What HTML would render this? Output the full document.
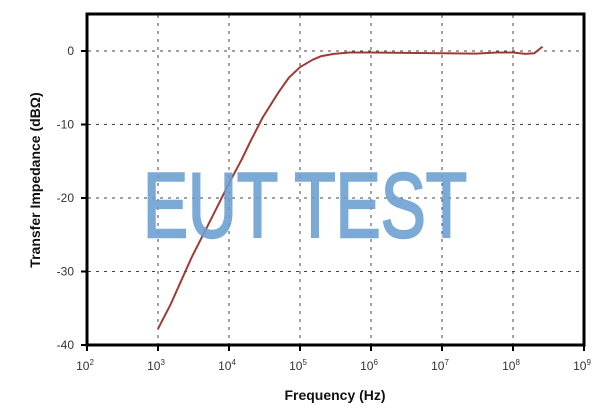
<!DOCTYPE html>
<html><head><meta charset="utf-8"><style>
body{margin:0;background:#fff;width:600px;height:409px;overflow:hidden;font-family:"Liberation Sans",sans-serif}
</style></head><body>
<svg id="chart" width="600" height="409">
<g id="grid"></g>
<g id="axes"></g>
<path id="line" fill="none" stroke="#a03a36" stroke-width="2" stroke-linejoin="round"/>
<text x="143" y="237" textLength="324" lengthAdjust="spacingAndGlyphs" font-family="'Liberation Sans',sans-serif" font-size="92" fill="#6b9fd1" stroke="#6b9fd1" stroke-width="2.5" opacity="0.88">EUT TEST</text>
<rect x="87" y="14" width="497" height="331" fill="none" stroke="#000" stroke-width="3"/>
<text x="335" y="400" text-anchor="middle" font-size="14" font-weight="bold" fill="#111">Frequency (Hz)</text>
<text transform="translate(40,180) rotate(-90)" text-anchor="middle" font-size="14" font-weight="bold" fill="#111">Transfer Impedance (dBΩ)</text>
</svg>
<script>
const freqs=[1e3,1.5e3,2e3,3e3,5e3,7e3,1e4,1.5e4,2e4,3e4,5e4,7e4,1e5,1.5e5,2e5,3e5,5e5,1e6,1e7,3e7,6e7,1e8,1.5e8,2e8,2.6e8];
const dbVals=[-37.8,-34.5,-31.8,-28,-23.8,-21,-18,-14.8,-12.3,-9,-5.6,-3.6,-2.2,-1.2,-0.7,-0.4,-0.2,-0.2,-0.3,-0.35,-0.2,-0.2,-0.4,-0.3,0.6];
const xExps=[2,3,4,5,6,7,8,9];
const yTicks=[0,-10,-20,-30,-40];
const NS="http://www.w3.org/2000/svg";
const X=f=>87+(Math.log10(f)-2)*71;
const Y=v=>51-v*7.35;
const grid=document.getElementById('grid'),axes=document.getElementById('axes');
function mk(t,a,p){const e=document.createElementNS(NS,t);for(const k in a)e.setAttribute(k,a[k]);p.appendChild(e);return e;}
xExps.forEach(e=>{const x=X(Math.pow(10,e));
 if(e>2&&e<9){const l=mk('line',{x1:x,x2:x,y1:15,y2:345,stroke:'#444','stroke-dasharray':'3,5'},grid);
 
 }
 const tk=mk('line',{x1:x,x2:x,y1:345,y2:351,stroke:'#000','stroke-width':2},axes);
 
 
 const t=mk('text',{x:x-2,y:370,'text-anchor':'middle','font-size':12,fill:'#333'},axes);
 
 
 t.innerHTML='10<tspan dy="-5" font-size="8">'+e+'</tspan>';});
yTicks.forEach(v=>{const y=Y(v);
 if(v>-40){const l=mk('line',{x1:88,x2:584,y1:y,y2:y,stroke:'#444','stroke-dasharray':'3,5'},grid);
 
 }
 const tk=mk('line',{x1:81,x2:87,y1:y,y2:y,stroke:'#000','stroke-width':2},axes);
 
 
 const t=mk('text',{x:74,y:y+4,'text-anchor':'end','font-size':12,fill:'#333'},axes);
 
 
 t.textContent=v;});
let d='';freqs.forEach((f,i)=>{d+=(i?'L':'M')+X(f).toFixed(1)+','+Y(dbVals[i]).toFixed(1);});
document.getElementById('line').setAttribute('d',d);
</script>
</body></html>
